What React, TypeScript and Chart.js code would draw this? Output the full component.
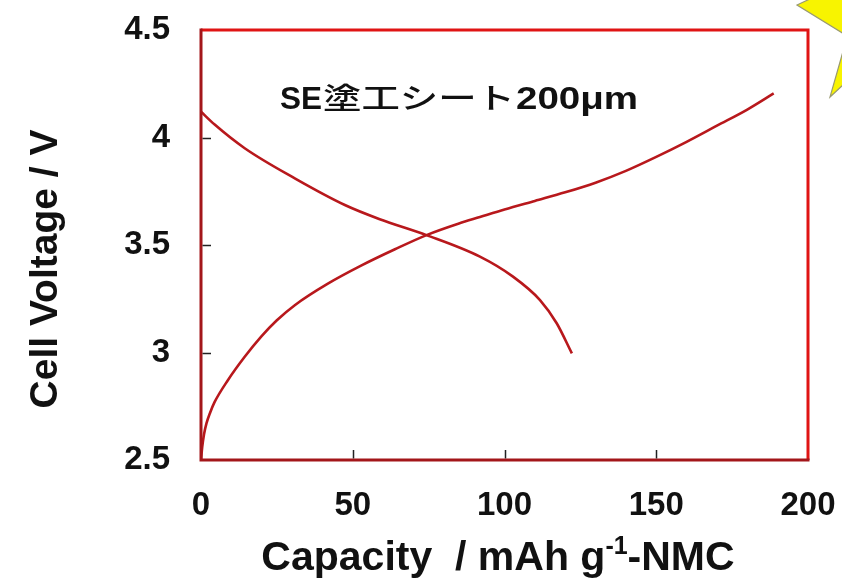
import React, { useEffect, useRef } from 'react';
import { Chart, registerables } from 'chart.js';

Chart.register(...registerables);

// Charge curve (rising)
const chargeCapacity = [0, 0.4, 1.0, 1.8, 3.0, 4.5, 8.8, 14.4, 19.9, 25, 30.9, 41.8, 52.9, 63.9, 74.3, 85, 91.9, 100, 110, 120, 130, 140, 150, 160, 170, 180, 188.7];
const chargeVoltage = [2.5, 2.56, 2.62, 2.67, 2.72, 2.77, 2.87, 2.98, 3.075, 3.15, 3.22, 3.32, 3.405, 3.48, 3.546, 3.6, 3.63, 3.665, 3.705, 3.745, 3.79, 3.845, 3.91, 3.98, 4.055, 4.13, 4.205];

// Discharge curve (falling)
const dischargeCapacity = [0, 4.5, 14.4, 30.9, 47.4, 58.9, 74.3, 91.9, 102.8, 111.7, 117.2, 122.2];
const dischargeVoltage = [4.12, 4.06, 3.95, 3.81, 3.686, 3.62, 3.546, 3.446, 3.353, 3.244, 3.136, 2.996];

const xTicks = [0, 50, 100, 150, 200];
const xTickLabels = ['0', '50', '100', '150', '200'];
const yTicks = [2.5, 3, 3.5, 4, 4.5];
const yTickLabels = ['2.5', '3', '3.5', '4', '4.5'];

const annotationParts = ['SE', '塗工シート', '200μm'];
const xTitleParts = ['Capacity  / mAh g', '-1', '-NMC'];
const yTitle = 'Cell Voltage / V';

const LATIN = '"Liberation Sans", Arial, sans-serif';
const CJK = '"Noto Sans CJK JP", sans-serif';

const decorPlugin = {
  id: 'decor',
  afterDraw(chart: any) {
    const ctx: CanvasRenderingContext2D = chart.ctx;
    const { left, right, top, bottom } = chart.chartArea;
    const xs = chart.scales.x;
    const ys = chart.scales.y;

    ctx.save();
    // decorative yellow star fragment, top right
    ctx.fillStyle = '#f8f400';
    ctx.strokeStyle = '#9a9a70';
    ctx.lineWidth = 1.2;
    ctx.beginPath();
    ctx.moveTo(812, -2);
    ctx.lineTo(797, 5);
    ctx.lineTo(844, 34);
    ctx.lineTo(844, -2);
    ctx.closePath();
    ctx.fill();
    ctx.stroke();
    ctx.beginPath();
    ctx.moveTo(844, 48);
    ctx.lineTo(830, 97);
    ctx.lineTo(844, 84);
    ctx.closePath();
    ctx.fill();
    ctx.stroke();

    // frame
    ctx.lineWidth = 3;
    ctx.strokeStyle = '#e01414';
    ctx.beginPath();
    ctx.moveTo(left, top);
    ctx.lineTo(right, top);
    ctx.lineTo(right, bottom);
    ctx.stroke();
    ctx.strokeStyle = '#a3161a';
    ctx.beginPath();
    ctx.moveTo(left, top - 1.5);
    ctx.lineTo(left, bottom);
    ctx.lineTo(right + 1.5, bottom);
    ctx.stroke();

    // inward tick marks
    ctx.strokeStyle = '#222';
    ctx.lineWidth = 1.5;
    ctx.beginPath();
    xTicks.forEach((v) => {
      if (v === xTicks[0] || v === xTicks[xTicks.length - 1]) return;
      const px = Math.round(xs.getPixelForValue(v)) + 0.5;
      ctx.moveTo(px, bottom - 1.5);
      ctx.lineTo(px, bottom - 10);
    });
    yTicks.forEach((v) => {
      if (v === yTicks[0] || v === yTicks[yTicks.length - 1]) return;
      const py = Math.round(ys.getPixelForValue(v)) + 0.5;
      ctx.moveTo(left + 1.5, py);
      ctx.lineTo(left + 10, py);
    });
    ctx.stroke();

    // x title with superscript
    ctx.fillStyle = '#111';
    ctx.textBaseline = 'alphabetic';
    ctx.textAlign = 'left';
    const xSize = 41;
    const supSize = Math.round(xSize * 0.6);
    ctx.font = `bold ${xSize}px ${LATIN}`;
    const w0 = ctx.measureText(xTitleParts[0]).width;
    ctx.font = `bold ${supSize}px ${LATIN}`;
    const w1 = ctx.measureText(xTitleParts[1]).width;
    ctx.font = `bold ${xSize}px ${LATIN}`;
    const w2 = ctx.measureText(xTitleParts[2]).width;
    const total = w0 + w1 + w2;
    let tx = 498 - total / 2;
    const ty = 570;
    ctx.fillText(xTitleParts[0], tx, ty);
    tx += w0;
    ctx.font = `bold ${supSize}px ${LATIN}`;
    ctx.fillText(xTitleParts[1], tx, ty - 16);
    tx += w1;
    ctx.font = `bold ${xSize}px ${LATIN}`;
    ctx.fillText(xTitleParts[2], tx, ty);

    // y title
    ctx.save();
    ctx.translate(57, 269);
    ctx.rotate(-Math.PI / 2);
    ctx.textAlign = 'center';
    ctx.font = `bold 39px ${LATIN}`;
    ctx.fillText(yTitle, 0, 0);
    ctx.restore();

    // annotation, each part fitted to its box
    const boxes = [
      { x: 280, w: 42, font: `bold 32px ${LATIN}` },
      { x: 323, w: 192, font: `500 29px ${CJK}` },
      { x: 516, w: 122, font: `bold 32px ${LATIN}` },
    ];
    const baseY = 109;
    annotationParts.forEach((txt, i) => {
      const b = boxes[i];
      ctx.font = b.font;
      const mw = ctx.measureText(txt).width;
      ctx.save();
      ctx.translate(b.x, baseY);
      ctx.scale(b.w / mw, 1);
      ctx.fillText(txt, 0, 0);
      ctx.restore();
    });

    ctx.restore();
  },
};

export default function App() {
  const ref = useRef<HTMLCanvasElement>(null);
  useEffect(() => {
    document.body.style.margin = '0';
    const canvas = ref.current;
    if (!canvas) return;
    const tickFont = { family: LATIN, weight: 'bold' as const, size: 33 };
    const chart = new Chart(canvas, {
      type: 'scatter',
      data: {
        datasets: [
          {
            label: 'charge',
            data: chargeCapacity.map((c, i) => ({ x: c, y: chargeVoltage[i] })),
            showLine: true,
            borderColor: '#b8181c',
            borderWidth: 2.6,
            pointRadius: 0,
            cubicInterpolationMode: 'monotone',
          },
          {
            label: 'discharge',
            data: dischargeCapacity.map((c, i) => ({ x: c, y: dischargeVoltage[i] })),
            showLine: true,
            borderColor: '#b8181c',
            borderWidth: 2.6,
            pointRadius: 0,
            cubicInterpolationMode: 'monotone',
          },
        ],
      },
      options: {
        animation: false,
        responsive: false,
        maintainAspectRatio: false,
        layout: { padding: { top: 30, right: 34, left: 0, bottom: 0 } },
        plugins: { legend: { display: false }, tooltip: { enabled: false } },
        scales: {
          x: {
            type: 'linear',
            min: 0,
            max: 200,
            afterBuildTicks: (s: any) => {
              s.ticks = xTicks.map((v) => ({ value: v }));
            },
            afterFit: (s: any) => {
              s.height = 118;
              s.paddingLeft = 0;
              s.paddingRight = 0;
            },
            ticks: {
              callback: (v: any) => {
                const i = xTicks.indexOf(Number(v));
                return i >= 0 ? xTickLabels[i] : '';
              },
              font: tickFont,
              color: '#111',
              padding: 26,
              maxRotation: 0,
              autoSkip: false,
            },
            grid: { display: false, drawTicks: false },
            border: { display: false },
          },
          y: {
            type: 'linear',
            min: 2.5,
            max: 4.5,
            afterBuildTicks: (s: any) => {
              s.ticks = yTicks.map((v) => ({ value: v }));
            },
            afterFit: (s: any) => {
              s.width = 201;
              s.paddingTop = 0;
              s.paddingBottom = 0;
            },
            ticks: {
              callback: (v: any) => {
                const i = yTicks.indexOf(Number(v));
                return i >= 0 ? yTickLabels[i] : '';
              },
              font: tickFont,
              color: '#111',
              padding: 31,
              autoSkip: false,
            },
            grid: { display: false, drawTicks: false },
            border: { display: false },
          },
        },
      },
      plugins: [decorPlugin],
    });
    return () => chart.destroy();
  }, []);
  return (
    <div style={{ width: 842, height: 578, background: '#fff' }}>
      <canvas ref={ref} width={842} height={578} style={{ display: 'block' }} />
    </div>
  );
}
